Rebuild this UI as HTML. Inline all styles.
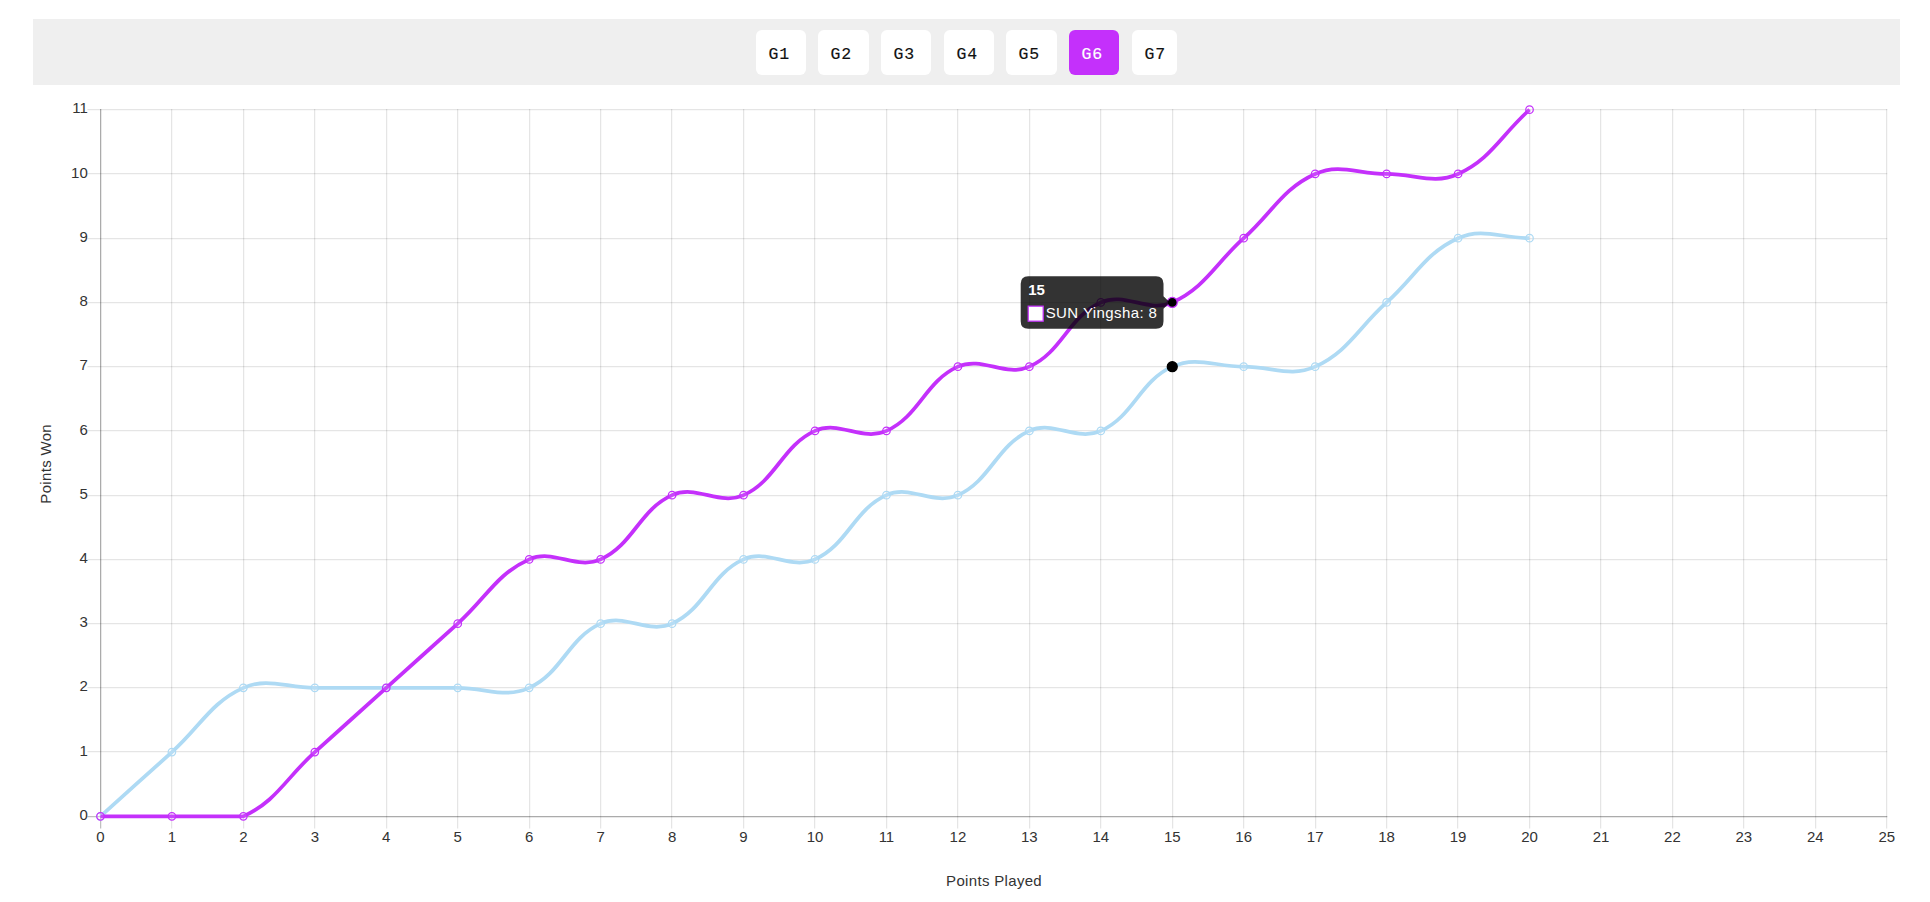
<!DOCTYPE html>
<html><head><meta charset="utf-8"><title>Points chart</title>
<style>
html,body{margin:0;padding:0;background:#fff;}
body{width:1930px;height:902px;position:relative;overflow:hidden;font-family:"Liberation Sans",sans-serif;}
.bar{position:absolute;left:33px;top:19px;width:1867px;height:66px;background:#efefef;}
.b{position:absolute;top:30px;height:45px;line-height:47px;background:#fff;border-radius:6px;text-align:center;font:16.5px/49px 'Liberation Mono','DejaVu Sans Mono',monospace;letter-spacing:0.9px;-webkit-text-stroke:0.15px #111;color:#111;text-align:left;padding-left:12.5px;box-sizing:border-box;}
.b.a{background:#c430fb;color:#fff;-webkit-text-stroke-color:#fff;}
</style></head><body>
<div class="bar"></div>
<div class="b" style="left:756px;width:50px">G1</div>
<div class="b" style="left:818px;width:51px">G2</div>
<div class="b" style="left:881px;width:50px">G3</div>
<div class="b" style="left:944px;width:50px">G4</div>
<div class="b" style="left:1006px;width:51px">G5</div>
<div class="b a" style="left:1069px;width:50px">G6</div>
<div class="b" style="left:1132px;width:45px">G7</div>

<svg width="1930" height="902" viewBox="0 0 1930 902" style="position:absolute;left:0;top:0" font-family="'Liberation Sans', sans-serif">
<rect x="100" y="109.00" width="1.25" height="719.50" fill="rgba(0,0,0,0.25)"/>
<rect x="171" y="109.00" width="1.25" height="719.50" fill="rgba(0,0,0,0.1)"/>
<rect x="243" y="109.00" width="1.25" height="719.50" fill="rgba(0,0,0,0.1)"/>
<rect x="314" y="109.00" width="1.25" height="719.50" fill="rgba(0,0,0,0.1)"/>
<rect x="386" y="109.00" width="1.25" height="719.50" fill="rgba(0,0,0,0.1)"/>
<rect x="457" y="109.00" width="1.25" height="719.50" fill="rgba(0,0,0,0.1)"/>
<rect x="529" y="109.00" width="1.25" height="719.50" fill="rgba(0,0,0,0.1)"/>
<rect x="600" y="109.00" width="1.25" height="719.50" fill="rgba(0,0,0,0.1)"/>
<rect x="671" y="109.00" width="1.25" height="719.50" fill="rgba(0,0,0,0.1)"/>
<rect x="743" y="109.00" width="1.25" height="719.50" fill="rgba(0,0,0,0.1)"/>
<rect x="814" y="109.00" width="1.25" height="719.50" fill="rgba(0,0,0,0.1)"/>
<rect x="886" y="109.00" width="1.25" height="719.50" fill="rgba(0,0,0,0.1)"/>
<rect x="957" y="109.00" width="1.25" height="719.50" fill="rgba(0,0,0,0.1)"/>
<rect x="1029" y="109.00" width="1.25" height="719.50" fill="rgba(0,0,0,0.1)"/>
<rect x="1100" y="109.00" width="1.25" height="719.50" fill="rgba(0,0,0,0.1)"/>
<rect x="1172" y="109.00" width="1.25" height="719.50" fill="rgba(0,0,0,0.1)"/>
<rect x="1243" y="109.00" width="1.25" height="719.50" fill="rgba(0,0,0,0.1)"/>
<rect x="1315" y="109.00" width="1.25" height="719.50" fill="rgba(0,0,0,0.1)"/>
<rect x="1386" y="109.00" width="1.25" height="719.50" fill="rgba(0,0,0,0.1)"/>
<rect x="1457" y="109.00" width="1.25" height="719.50" fill="rgba(0,0,0,0.1)"/>
<rect x="1529" y="109.00" width="1.25" height="719.50" fill="rgba(0,0,0,0.1)"/>
<rect x="1600" y="109.00" width="1.25" height="719.50" fill="rgba(0,0,0,0.1)"/>
<rect x="1672" y="109.00" width="1.25" height="719.50" fill="rgba(0,0,0,0.1)"/>
<rect x="1743" y="109.00" width="1.25" height="719.50" fill="rgba(0,0,0,0.1)"/>
<rect x="1815" y="109.00" width="1.25" height="719.50" fill="rgba(0,0,0,0.1)"/>
<rect x="1886" y="109.00" width="1.25" height="719.50" fill="rgba(0,0,0,0.1)"/>
<rect x="87.50" y="816" width="1799.75" height="1.25" fill="rgba(0,0,0,0.25)"/>
<rect x="87.50" y="751" width="1799.75" height="1.25" fill="rgba(0,0,0,0.1)"/>
<rect x="87.50" y="687" width="1799.75" height="1.25" fill="rgba(0,0,0,0.1)"/>
<rect x="87.50" y="623" width="1799.75" height="1.25" fill="rgba(0,0,0,0.1)"/>
<rect x="87.50" y="559" width="1799.75" height="1.25" fill="rgba(0,0,0,0.1)"/>
<rect x="87.50" y="495" width="1799.75" height="1.25" fill="rgba(0,0,0,0.1)"/>
<rect x="87.50" y="430" width="1799.75" height="1.25" fill="rgba(0,0,0,0.1)"/>
<rect x="87.50" y="366" width="1799.75" height="1.25" fill="rgba(0,0,0,0.1)"/>
<rect x="87.50" y="302" width="1799.75" height="1.25" fill="rgba(0,0,0,0.1)"/>
<rect x="87.50" y="238" width="1799.75" height="1.25" fill="rgba(0,0,0,0.1)"/>
<rect x="87.50" y="173" width="1799.75" height="1.25" fill="rgba(0,0,0,0.1)"/>
<rect x="87.50" y="109" width="1799.75" height="1.25" fill="rgba(0,0,0,0.1)"/>
<rect x="100" y="109" width="1.25" height="708.25" fill="rgba(0,0,0,0.1)"/>
<rect x="100" y="816" width="1787.25" height="1.25" fill="rgba(0,0,0,0.1)"/>
<g fill="#333" font-size="15">
<text x="100.45" y="841.8" text-anchor="middle">0</text>
<text x="171.90" y="841.8" text-anchor="middle">1</text>
<text x="243.36" y="841.8" text-anchor="middle">2</text>
<text x="314.81" y="841.8" text-anchor="middle">3</text>
<text x="386.27" y="841.8" text-anchor="middle">4</text>
<text x="457.72" y="841.8" text-anchor="middle">5</text>
<text x="529.17" y="841.8" text-anchor="middle">6</text>
<text x="600.63" y="841.8" text-anchor="middle">7</text>
<text x="672.08" y="841.8" text-anchor="middle">8</text>
<text x="743.54" y="841.8" text-anchor="middle">9</text>
<text x="814.99" y="841.8" text-anchor="middle">10</text>
<text x="886.44" y="841.8" text-anchor="middle">11</text>
<text x="957.90" y="841.8" text-anchor="middle">12</text>
<text x="1029.35" y="841.8" text-anchor="middle">13</text>
<text x="1100.81" y="841.8" text-anchor="middle">14</text>
<text x="1172.26" y="841.8" text-anchor="middle">15</text>
<text x="1243.71" y="841.8" text-anchor="middle">16</text>
<text x="1315.17" y="841.8" text-anchor="middle">17</text>
<text x="1386.62" y="841.8" text-anchor="middle">18</text>
<text x="1458.08" y="841.8" text-anchor="middle">19</text>
<text x="1529.53" y="841.8" text-anchor="middle">20</text>
<text x="1600.98" y="841.8" text-anchor="middle">21</text>
<text x="1672.44" y="841.8" text-anchor="middle">22</text>
<text x="1743.89" y="841.8" text-anchor="middle">23</text>
<text x="1815.35" y="841.8" text-anchor="middle">24</text>
<text x="1886.80" y="841.8" text-anchor="middle">25</text>
<text x="87.8" y="819.95" text-anchor="end">0</text>
<text x="87.8" y="755.71" text-anchor="end">1</text>
<text x="87.8" y="691.47" text-anchor="end">2</text>
<text x="87.8" y="627.23" text-anchor="end">3</text>
<text x="87.8" y="562.99" text-anchor="end">4</text>
<text x="87.8" y="498.75" text-anchor="end">5</text>
<text x="87.8" y="434.50" text-anchor="end">6</text>
<text x="87.8" y="370.26" text-anchor="end">7</text>
<text x="87.8" y="306.02" text-anchor="end">8</text>
<text x="87.8" y="241.78" text-anchor="end">9</text>
<text x="87.8" y="177.54" text-anchor="end">10</text>
<text x="87.8" y="113.30" text-anchor="end">11</text>
<text x="993.9" y="886" text-anchor="middle" textLength="95.6">Points Played</text>
<text transform="translate(51.4 464) rotate(-90)" text-anchor="middle" textLength="79.4">Points Won</text>
</g>
<path d="M100.45 816.35 C129.03 790.65 143.32 777.81 171.90 752.11 C200.49 726.41 210.57 702.61 243.36 687.87 C267.74 676.91 286.23 687.87 314.81 687.87 C343.39 687.87 357.68 687.87 386.27 687.87 C414.85 687.87 429.14 687.87 457.72 687.87 C486.30 687.87 504.79 698.83 529.17 687.87 C561.96 673.13 567.84 638.36 600.63 623.63 C625.01 612.67 647.70 634.59 672.08 623.63 C704.87 608.89 710.75 574.12 743.54 559.39 C767.92 548.43 790.61 570.35 814.99 559.39 C847.77 544.65 853.66 509.88 886.44 495.15 C910.82 484.19 933.52 506.10 957.90 495.15 C990.68 480.41 996.57 445.64 1029.35 430.90 C1053.73 419.95 1076.43 441.86 1100.81 430.90 C1133.59 416.17 1139.48 381.40 1172.26 366.66 C1196.64 355.70 1215.13 366.66 1243.71 366.66 C1272.30 366.66 1290.79 377.62 1315.17 366.66 C1347.95 351.93 1358.04 328.12 1386.62 302.42 C1415.20 276.73 1425.29 252.92 1458.08 238.18 C1482.46 227.22 1500.95 238.18 1529.53 238.18" fill="none" stroke="#aedaf4" stroke-width="3.75" stroke-linejoin="miter"/>
<circle cx="100.45" cy="816.35" r="3.75" fill="rgba(255,255,255,0.1)" stroke="#aedaf4" stroke-width="1.25"/>
<circle cx="171.90" cy="752.11" r="3.75" fill="rgba(255,255,255,0.1)" stroke="#aedaf4" stroke-width="1.25"/>
<circle cx="243.36" cy="687.87" r="3.75" fill="rgba(255,255,255,0.1)" stroke="#aedaf4" stroke-width="1.25"/>
<circle cx="314.81" cy="687.87" r="3.75" fill="rgba(255,255,255,0.1)" stroke="#aedaf4" stroke-width="1.25"/>
<circle cx="386.27" cy="687.87" r="3.75" fill="rgba(255,255,255,0.1)" stroke="#aedaf4" stroke-width="1.25"/>
<circle cx="457.72" cy="687.87" r="3.75" fill="rgba(255,255,255,0.1)" stroke="#aedaf4" stroke-width="1.25"/>
<circle cx="529.17" cy="687.87" r="3.75" fill="rgba(255,255,255,0.1)" stroke="#aedaf4" stroke-width="1.25"/>
<circle cx="600.63" cy="623.63" r="3.75" fill="rgba(255,255,255,0.1)" stroke="#aedaf4" stroke-width="1.25"/>
<circle cx="672.08" cy="623.63" r="3.75" fill="rgba(255,255,255,0.1)" stroke="#aedaf4" stroke-width="1.25"/>
<circle cx="743.54" cy="559.39" r="3.75" fill="rgba(255,255,255,0.1)" stroke="#aedaf4" stroke-width="1.25"/>
<circle cx="814.99" cy="559.39" r="3.75" fill="rgba(255,255,255,0.1)" stroke="#aedaf4" stroke-width="1.25"/>
<circle cx="886.44" cy="495.15" r="3.75" fill="rgba(255,255,255,0.1)" stroke="#aedaf4" stroke-width="1.25"/>
<circle cx="957.90" cy="495.15" r="3.75" fill="rgba(255,255,255,0.1)" stroke="#aedaf4" stroke-width="1.25"/>
<circle cx="1029.35" cy="430.90" r="3.75" fill="rgba(255,255,255,0.1)" stroke="#aedaf4" stroke-width="1.25"/>
<circle cx="1100.81" cy="430.90" r="3.75" fill="rgba(255,255,255,0.1)" stroke="#aedaf4" stroke-width="1.25"/>
<circle cx="1172.26" cy="366.66" r="5" fill="#000" stroke="#000" stroke-width="1.25"/>
<circle cx="1243.71" cy="366.66" r="3.75" fill="rgba(255,255,255,0.1)" stroke="#aedaf4" stroke-width="1.25"/>
<circle cx="1315.17" cy="366.66" r="3.75" fill="rgba(255,255,255,0.1)" stroke="#aedaf4" stroke-width="1.25"/>
<circle cx="1386.62" cy="302.42" r="3.75" fill="rgba(255,255,255,0.1)" stroke="#aedaf4" stroke-width="1.25"/>
<circle cx="1458.08" cy="238.18" r="3.75" fill="rgba(255,255,255,0.1)" stroke="#aedaf4" stroke-width="1.25"/>
<circle cx="1529.53" cy="238.18" r="3.75" fill="rgba(255,255,255,0.1)" stroke="#aedaf4" stroke-width="1.25"/>
<path d="M100.45 816.35 C129.03 816.35 143.32 816.35 171.90 816.35 C200.49 816.35 218.98 816.35 243.36 816.35 C276.14 801.61 286.23 777.81 314.81 752.11 C343.39 726.41 357.68 713.56 386.27 687.87 C414.85 662.17 429.14 649.32 457.72 623.63 C486.30 597.93 496.39 574.12 529.17 559.39 C553.55 548.43 576.25 570.35 600.63 559.39 C633.41 544.65 639.30 509.88 672.08 495.15 C696.46 484.19 719.16 506.10 743.54 495.15 C776.32 480.41 782.21 445.64 814.99 430.90 C839.37 419.95 862.06 441.86 886.44 430.90 C919.23 416.17 925.11 381.40 957.90 366.66 C982.28 355.70 1004.97 377.62 1029.35 366.66 C1062.14 351.93 1068.02 317.16 1100.81 302.42 C1125.19 291.46 1147.88 313.38 1172.26 302.42 C1205.04 287.69 1215.13 263.88 1243.71 238.18 C1272.30 212.49 1282.38 188.68 1315.17 173.94 C1339.55 162.98 1358.04 173.94 1386.62 173.94 C1415.20 173.94 1433.70 184.90 1458.08 173.94 C1490.86 159.20 1500.95 135.40 1529.53 109.70" fill="none" stroke="#c430fb" stroke-width="3.75" stroke-linejoin="miter"/>
<circle cx="100.45" cy="816.35" r="3.75" fill="rgba(255,255,255,0.1)" stroke="#c430fb" stroke-width="1.25"/>
<circle cx="171.90" cy="816.35" r="3.75" fill="rgba(255,255,255,0.1)" stroke="#c430fb" stroke-width="1.25"/>
<circle cx="243.36" cy="816.35" r="3.75" fill="rgba(255,255,255,0.1)" stroke="#c430fb" stroke-width="1.25"/>
<circle cx="314.81" cy="752.11" r="3.75" fill="rgba(255,255,255,0.1)" stroke="#c430fb" stroke-width="1.25"/>
<circle cx="386.27" cy="687.87" r="3.75" fill="rgba(255,255,255,0.1)" stroke="#c430fb" stroke-width="1.25"/>
<circle cx="457.72" cy="623.63" r="3.75" fill="rgba(255,255,255,0.1)" stroke="#c430fb" stroke-width="1.25"/>
<circle cx="529.17" cy="559.39" r="3.75" fill="rgba(255,255,255,0.1)" stroke="#c430fb" stroke-width="1.25"/>
<circle cx="600.63" cy="559.39" r="3.75" fill="rgba(255,255,255,0.1)" stroke="#c430fb" stroke-width="1.25"/>
<circle cx="672.08" cy="495.15" r="3.75" fill="rgba(255,255,255,0.1)" stroke="#c430fb" stroke-width="1.25"/>
<circle cx="743.54" cy="495.15" r="3.75" fill="rgba(255,255,255,0.1)" stroke="#c430fb" stroke-width="1.25"/>
<circle cx="814.99" cy="430.90" r="3.75" fill="rgba(255,255,255,0.1)" stroke="#c430fb" stroke-width="1.25"/>
<circle cx="886.44" cy="430.90" r="3.75" fill="rgba(255,255,255,0.1)" stroke="#c430fb" stroke-width="1.25"/>
<circle cx="957.90" cy="366.66" r="3.75" fill="rgba(255,255,255,0.1)" stroke="#c430fb" stroke-width="1.25"/>
<circle cx="1029.35" cy="366.66" r="3.75" fill="rgba(255,255,255,0.1)" stroke="#c430fb" stroke-width="1.25"/>
<circle cx="1100.81" cy="302.42" r="3.75" fill="rgba(255,255,255,0.1)" stroke="#c430fb" stroke-width="1.25"/>
<circle cx="1172.26" cy="302.42" r="5" fill="#000" stroke="#c430fb" stroke-width="1.25"/>
<circle cx="1243.71" cy="238.18" r="3.75" fill="rgba(255,255,255,0.1)" stroke="#c430fb" stroke-width="1.25"/>
<circle cx="1315.17" cy="173.94" r="3.75" fill="rgba(255,255,255,0.1)" stroke="#c430fb" stroke-width="1.25"/>
<circle cx="1386.62" cy="173.94" r="3.75" fill="rgba(255,255,255,0.1)" stroke="#c430fb" stroke-width="1.25"/>
<circle cx="1458.08" cy="173.94" r="3.75" fill="rgba(255,255,255,0.1)" stroke="#c430fb" stroke-width="1.25"/>
<circle cx="1529.53" cy="109.70" r="3.75" fill="rgba(255,255,255,0.1)" stroke="#c430fb" stroke-width="1.25"/>
<path d="M1028.20 276.17 H1156.01 Q1163.51 276.17 1163.51 283.67 V296.17 L1169.76 302.42 L1163.51 308.67 V321.17 Q1163.51 328.67 1156.01 328.67 H1028.20 Q1020.70 328.67 1020.70 321.17 V283.67 Q1020.70 276.17 1028.20 276.17 Z" fill="rgba(0,0,0,0.8)"/>
<text x="1028.20" y="294.97" fill="#fff" font-size="15" font-weight="bold">15</text>
<rect x="1028.20" y="306.17" width="15" height="15" fill="#fff" stroke="#c430fb" stroke-width="1.25"/>
<text x="1045.70" y="317.87" fill="#fff" font-size="15" textLength="111.2">SUN Yingsha: 8</text>
</svg>
</body></html>
